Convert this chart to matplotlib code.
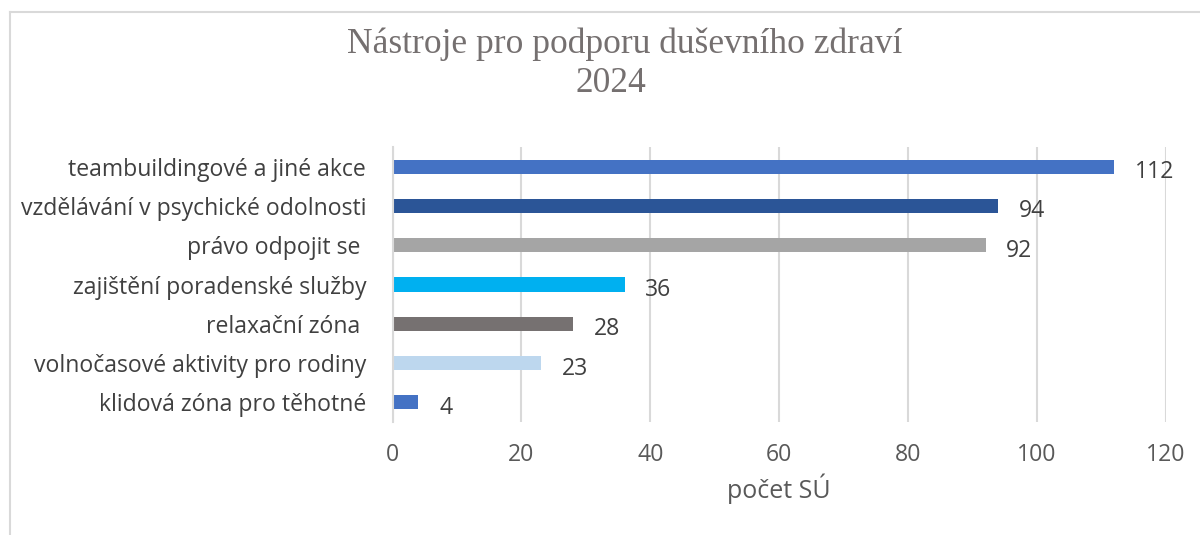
import matplotlib
matplotlib.use("Agg")
import matplotlib.pyplot as plt
from matplotlib.lines import Line2D

categories = [
    "teambuildingové a jiné akce",
    "vzdělávání v psychické odolnosti",
    "právo odpojit se ",
    "zajištění poradenské služby",
    "relaxační zóna ",
    "volnočasové aktivity pro rodiny",
    "klidová zóna pro těhotné",
]
values = [112, 94, 92, 36, 28, 23, 4]
colors = ["#4472C4", "#2B5597", "#A5A5A5", "#00B0F0", "#767171", "#BDD7EE", "#4472C4"]
xticks = [0, 20, 40, 60, 80, 100, 120]
title_lines = ["Nástroje pro podporu duševního zdraví", "2024"]
xlabel = "počet SÚ"

W, H = 1200, 535
fig = plt.figure(figsize=(W / 100, H / 100), dpi=100)
ax = fig.add_axes([392.5 / W, 1 - 422 / H, (1166 - 392.5) / W, (422 - 147) / H])

ypos = list(range(len(categories)))
ax.barh(ypos, values, height=0.36, color=colors, zorder=3)
ax.set_ylim(len(categories) - 0.5, -0.5)
ax.set_xlim(0, 120)
ax.set_xticks(xticks)
ax.set_xticklabels([str(t) for t in xticks])
ax.set_yticks(ypos)
ax.set_yticklabels(categories)

lab_font = "Open Sans"
fs = 16.6
for lbl in ax.get_yticklabels():
    lbl.set_fontfamily(lab_font)
    lbl.set_fontsize(fs)
    lbl.set_color("#404040")
for lbl in ax.get_xticklabels():
    lbl.set_fontfamily(lab_font)
    lbl.set_fontsize(fs)
    lbl.set_color("#595959")
ax.tick_params(axis="y", length=0, pad=19)
ax.tick_params(axis="x", length=0, pad=15)

ax.grid(axis="x", color="#D9D9D9", linewidth=1.5, zorder=0)
for s in ["top", "right", "bottom"]:
    ax.spines[s].set_visible(False)
ax.spines["left"].set_color("#D9D9D9")
ax.spines["left"].set_linewidth(1.5)
ax.spines["left"].set_zorder(4)

for y, v in zip(ypos, values):
    ax.annotate(str(v), xy=(v, y), xytext=(15, -4), textcoords="offset points",
                ha="left", va="center", fontsize=fs, family=lab_font, color="#404040")

ax.set_xlabel(xlabel, fontsize=18, family=lab_font, color="#595959", labelpad=5)

fig.text(625 / W, 1 - 53 / H, title_lines[0], ha="center", va="baseline", fontsize=25.5,
         family="Liberation Serif", color="#757070")
fig.text(611 / W, 1 - 92 / H, title_lines[1], ha="center", va="baseline", fontsize=25.5,
         family="Liberation Serif", color="#757070")

# chart area border (cropped at right and bottom)
fig.add_artist(Line2D([10 / W, 1.0], [1 - 12 / H, 1 - 12 / H], color="#D9D9D9", linewidth=1.5,
                      transform=fig.transFigure))
fig.add_artist(Line2D([10 / W, 10 / W], [1 - 12 / H, 0.0], color="#D9D9D9", linewidth=1.5,
                      transform=fig.transFigure))

fig.savefig("out.png", dpi=100, facecolor="white")
